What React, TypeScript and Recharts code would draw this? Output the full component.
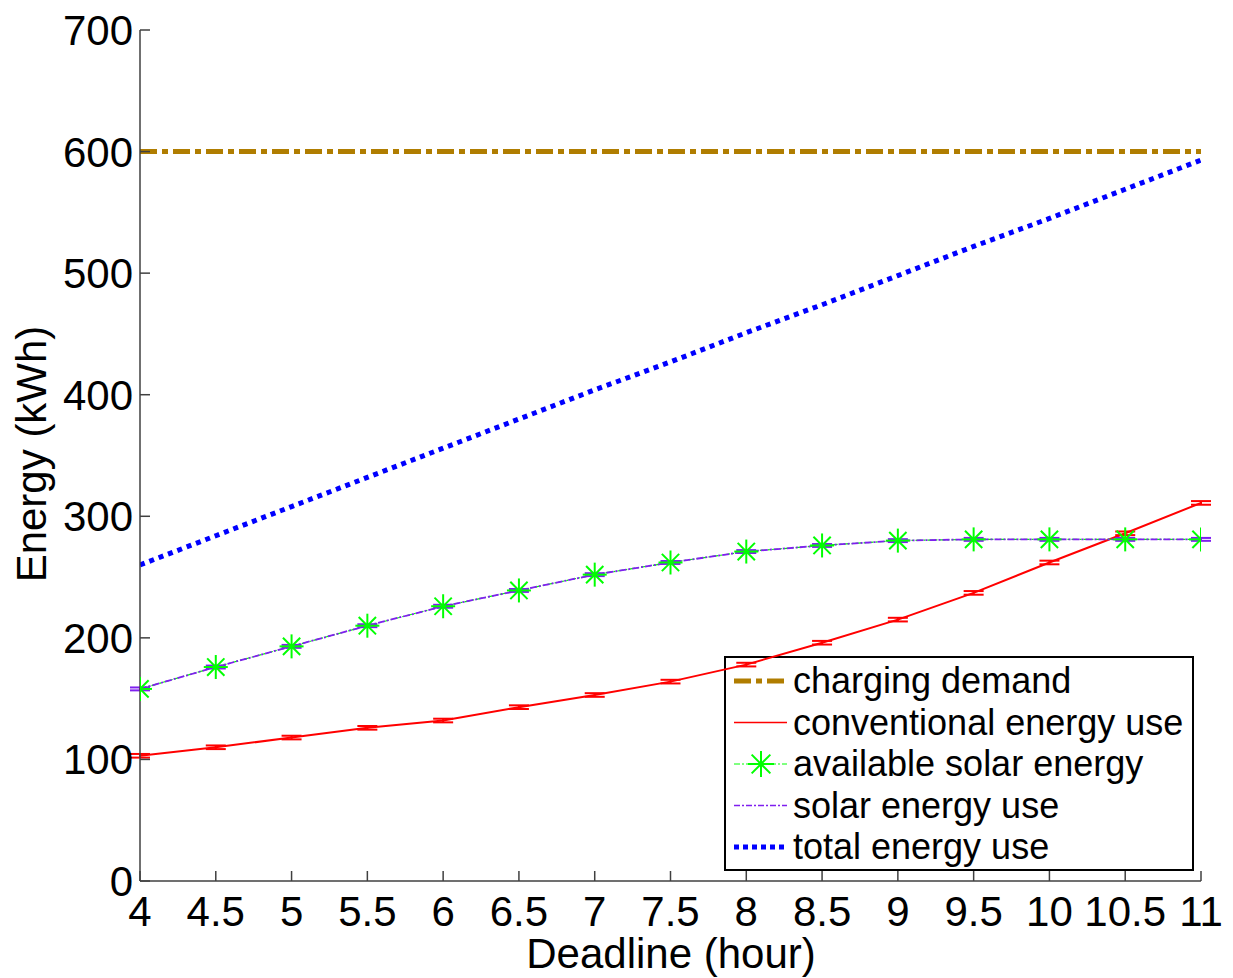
import React from 'react'
import { ComposedChart, Line, XAxis, YAxis, ErrorBar } from 'recharts'

const deadlines = [4, 4.5, 5, 5.5, 6, 6.5, 7, 7.5, 8, 8.5, 9, 9.5, 10, 10.5, 11]
const chargingDemand = [600, 600, 600, 600, 600, 600, 600, 600, 600, 600, 600, 600, 600, 600, 600]
const conventionalUse = [103, 110, 118, 126, 132, 143, 153, 164, 178, 196, 215, 237, 262, 286, 311]
const conventionalErr = [1.5, 1.5, 1.5, 1.5, 1.5, 1.5, 1.5, 1.5, 1.5, 1.5, 1.5, 1.5, 1.5, 1.5, 1.5]
const availableSolar = [158, 176, 193, 210, 226, 239, 252, 262, 271, 276, 280, 281, 281, 281, 281]
const solarUse = [158, 176, 193, 210, 226, 239, 252, 262, 271, 276, 280, 281, 281, 281, 281]
const solarErr = [1.2, 1.2, 1.2, 1.2, 1.2, 1.2, 1.2, 1.2, 1.2, 1.2, 1.2, 1.2, 1.2, 1.2, 1.2]
const totalUse = [260, 284, 308, 332, 356, 380, 404, 427, 451, 474, 498, 522, 545, 569, 593]

const xTicks = [4, 4.5, 5, 5.5, 6, 6.5, 7, 7.5, 8, 8.5, 9, 9.5, 10, 10.5, 11]
const yTicks = [0, 100, 200, 300, 400, 500, 600, 700]

const FONT = '"Liberation Sans", Arial, Helvetica, sans-serif'
const AXIS = '#404040'

const data = deadlines.map((d, i) => ({
  deadline: d,
  demand: chargingDemand[i],
  conventional: conventionalUse[i],
  convErr: conventionalErr[i],
  available: availableSolar[i],
  solar: solarUse[i],
  solarErr: solarErr[i],
  total: totalUse[i],
}))

const legendItems = [
  { name: 'charging demand', color: '#B07D00', width: 5, dash: '17 5 6 5', star: false },
  { name: 'conventional energy use', color: '#FF0000', width: 1.5, dash: undefined, star: false },
  { name: 'available solar energy', color: '#00FF00', width: 1, dash: '6 2 2 2', star: true },
  { name: 'solar energy use', color: '#7F1FEF', width: 1.5, dash: '6 2 2 2', star: false },
  { name: 'total energy use', color: '#0000FF', width: 5, dash: '5 4', star: false },
]

const Star = ({ cx, cy, r = 12, color = '#00FF00' }: any) => {
  if (cx == null || cy == null) return null
  const d = r * 0.72
  return (
    <g stroke={color} strokeWidth={2}>
      <line x1={cx - r} y1={cy} x2={cx + r} y2={cy} />
      <line x1={cx} y1={cy - r} x2={cx} y2={cy + r} />
      <line x1={cx - d} y1={cy - d} x2={cx + d} y2={cy + d} />
      <line x1={cx - d} y1={cy + d} x2={cx + d} y2={cy - d} />
    </g>
  )
}

const XTick = ({ x, y, payload }: any) => (
  <g>
    <line x1={x} y1={y} x2={x} y2={y - 10} stroke={AXIS} strokeWidth={1.5} />
    <text x={x} y={y + 45} textAnchor="middle" fontSize={42} fontFamily={FONT} fill="#000">
      {payload.value}
    </text>
  </g>
)

const YTick = ({ x, y, payload }: any) => (
  <g>
    <line x1={x} y1={y} x2={x + 10} y2={y} stroke={AXIS} strokeWidth={1.5} />
    <text x={x - 7} y={y + 15} textAnchor="end" fontSize={42} fontFamily={FONT} fill="#000">
      {payload.value}
    </text>
  </g>
)

// legend box drawn inside the chart svg, over the plot
const LegendBox = ({ left, top }: { left: number; top: number }) => (
  <g transform={`translate(${left},${top})`}>
    <rect x={1} y={1} width={468} height={213} fill="#fff" stroke="#000" strokeWidth={2} />
    {legendItems.map((it, i) => {
      const ly = 25 + i * 41.5
      return (
        <g key={it.name}>
          <line x1={10} y1={ly} x2={63} y2={ly} stroke={it.color} strokeWidth={it.width} strokeDasharray={it.dash} />
          {it.star && <Star cx={37} cy={ly} r={13} color={it.color} />}
          <text x={69} y={ly + 12} fontSize={36} fontFamily={FONT} fill="#000">
            {it.name}
          </text>
        </g>
      )
    })}
  </g>
)

export default function App() {
  return (
    <div style={{ position: 'absolute', left: 0, top: 0, background: '#fff' }}>
      <ComposedChart
        width={1233}
        height={978}
        data={data}
        margin={{ top: 30, right: 32, bottom: 0, left: 0 }}
      >
        <XAxis
          dataKey="deadline"
          type="number"
          domain={[4, 11]}
          ticks={xTicks}
          interval={0}
          height={97}
          tickSize={0}
          tickMargin={0}
          tickLine={false}
          tick={<XTick />}
          stroke={AXIS}
          strokeWidth={1.5}
          allowDataOverflow
        />
        <YAxis
          type="number"
          domain={[0, 700]}
          ticks={yTicks}
          interval={0}
          width={140}
          tickSize={0}
          tickMargin={0}
          tickLine={false}
          tick={<YTick />}
          stroke={AXIS}
          strokeWidth={1.5}
        />
        <Line
          dataKey="demand"
          stroke="#B07D00"
          strokeWidth={5}
          strokeDasharray="17 5 6 5"
          dot={false}
          activeDot={false}
          isAnimationActive={false}
        />
        <Line
          dataKey="conventional"
          stroke="#FF0000"
          strokeWidth={2}
          dot={false}
          activeDot={false}
          isAnimationActive={false}
        >
          <ErrorBar dataKey="convErr" direction="y" width={10} stroke="#FF0000" strokeWidth={2} />
        </Line>
        <Line
          dataKey="available"
          stroke="#00FF00"
          strokeWidth={1.2}
          strokeDasharray="6 2 2 2"
          dot={<Star r={12} color="#00FF00" />}
          activeDot={false}
          isAnimationActive={false}
        />
        <Line
          dataKey="solar"
          stroke="#7F1FEF"
          strokeWidth={1.8}
          strokeDasharray="7 2 2 2"
          dot={false}
          activeDot={false}
          isAnimationActive={false}
        >
          <ErrorBar dataKey="solarErr" direction="y" width={10} stroke="#7F1FEF" strokeWidth={2} />
        </Line>
        <Line
          dataKey="total"
          stroke="#0000FF"
          strokeWidth={5}
          strokeDasharray="5 5"
          dot={false}
          activeDot={false}
          isAnimationActive={false}
        />
        <LegendBox left={724} top={656} />
        <text x={671} y={968} textAnchor="middle" fontSize={42} fontFamily={FONT} fill="#000">
          Deadline (hour)
        </text>
        <text
          x={46}
          y={454}
          transform="rotate(-90 46 454)"
          textAnchor="middle"
          fontSize={42}
          fontFamily={FONT}
          fill="#000"
        >
          Energy (kWh)
        </text>
      </ComposedChart>
    </div>
  )
}
